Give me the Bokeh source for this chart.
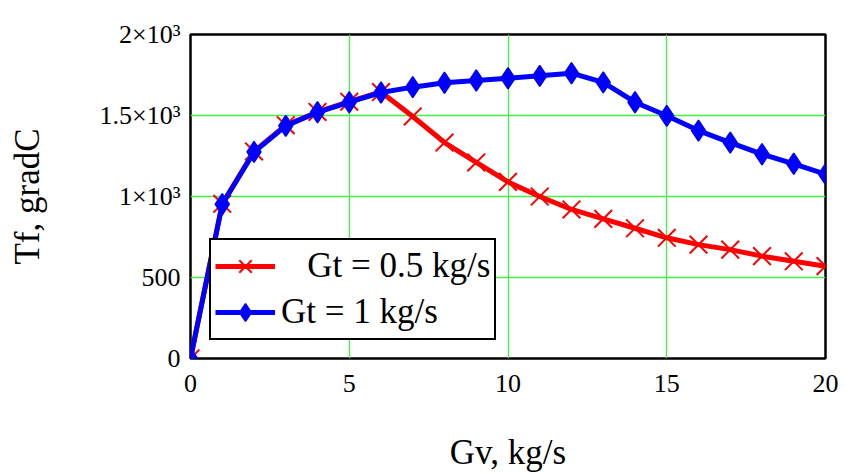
from bokeh.plotting import figure
from bokeh.models import Range1d, FixedTicker, Legend, LegendItem
from bokeh.embed import file_html
from bokeh.resources import INLINE

gv = [0, 1, 2, 3, 4, 5, 6, 7, 8, 9, 10, 11, 12, 13, 14, 15, 16, 17, 18, 19, 20]
tf_gt05 = [0, 955, 1278, 1440, 1522, 1585, 1645, 1494, 1333, 1210, 1090, 1000, 920,
           862, 804, 745, 703, 672, 632, 600, 570]
tf_gt1 = [0, 952, 1275, 1436, 1520, 1582, 1642, 1675, 1702, 1716, 1730, 1745, 1761,
          1704, 1582, 1498, 1407, 1333, 1261, 1202, 1138]
x_ticks = [0, 5, 10, 15, 20]
y_ticks = [0, 500, 1000, 1500, 2000]
y_tick_labels = {0: "0", 500: "500", 1000: "1×10³", 1500: "1.5×10³", 2000: "2×10³"}
legend_labels = ["\u00a0\u00a0\u00a0Gt = 0.5 kg/s", "Gt = 1 kg/s"]

FONT = "Liberation Serif"

p = figure(width=845, height=474, output_backend="svg", toolbar_location=None,
           x_range=Range1d(0, 20), y_range=Range1d(0, 2000))
p.min_border_left = 190
p.min_border_right = 20
p.min_border_top = 34
p.min_border_bottom = 116
p.outline_line_color = "black"
p.outline_line_width = 2.5
p.outline_line_alpha = 1
p.background_fill_color = "white"
p.border_fill_color = "white"

p.xaxis.ticker = FixedTicker(ticks=x_ticks)
p.yaxis.ticker = FixedTicker(ticks=y_ticks)
p.yaxis.major_label_overrides = y_tick_labels
for ax in (p.xaxis[0], p.yaxis[0]):
    ax.axis_line_color = None
    ax.major_tick_line_color = None
    ax.minor_tick_line_color = None
    ax.major_label_text_font = FONT
    ax.major_label_text_font_size = "26px"
    ax.major_label_text_color = "black"
    ax.axis_label_text_font = FONT
    ax.axis_label_text_font_size = "35px"
    ax.axis_label_text_font_style = "normal"
    ax.axis_label_text_color = "black"
p.xaxis.major_label_standoff = 10
p.yaxis.major_label_standoff = 4
p.xaxis.axis_label = "Gv, kg/s"
p.yaxis.axis_label = "Tf, gradC"
p.xaxis.axis_label_standoff = 38
p.yaxis.axis_label_standoff = 50

p.xgrid.grid_line_color = "#44f044"
p.ygrid.grid_line_color = "#44f044"
p.xgrid.grid_line_width = 1.3
p.ygrid.grid_line_width = 1.3

r_line = p.line(gv, tf_gt05, line_color="red", line_width=5)
r_mark = p.scatter(gv, tf_gt05, marker="x", size=25, line_color="red", line_width=2)
b_line = p.line(gv, tf_gt1, line_color="blue", line_width=5)
b_mark = p.scatter(gv, tf_gt1, marker="diamond", size=21,
                   fill_color="blue", line_color="blue", line_width=1.5)

legend = Legend(items=[LegendItem(label=legend_labels[0], renderers=[r_line, r_mark]),
                       LegendItem(label=legend_labels[1], renderers=[b_line, b_mark])],
                location=(19, 18))
legend.label_text_font = FONT
legend.label_text_font_size = "35px"
legend.label_text_color = "black"
legend.border_line_color = "black"
legend.border_line_width = 2.5
legend.border_line_alpha = 1
legend.background_fill_color = "white"
legend.background_fill_alpha = 1
legend.glyph_width = 60
legend.glyph_height = 44
legend.label_height = 44
legend.spacing = 2
legend.padding = 4
legend.margin = 0
legend.label_standoff = 6
p.add_layout(legend)

open("out.html", "w").write(file_html(p, INLINE))
